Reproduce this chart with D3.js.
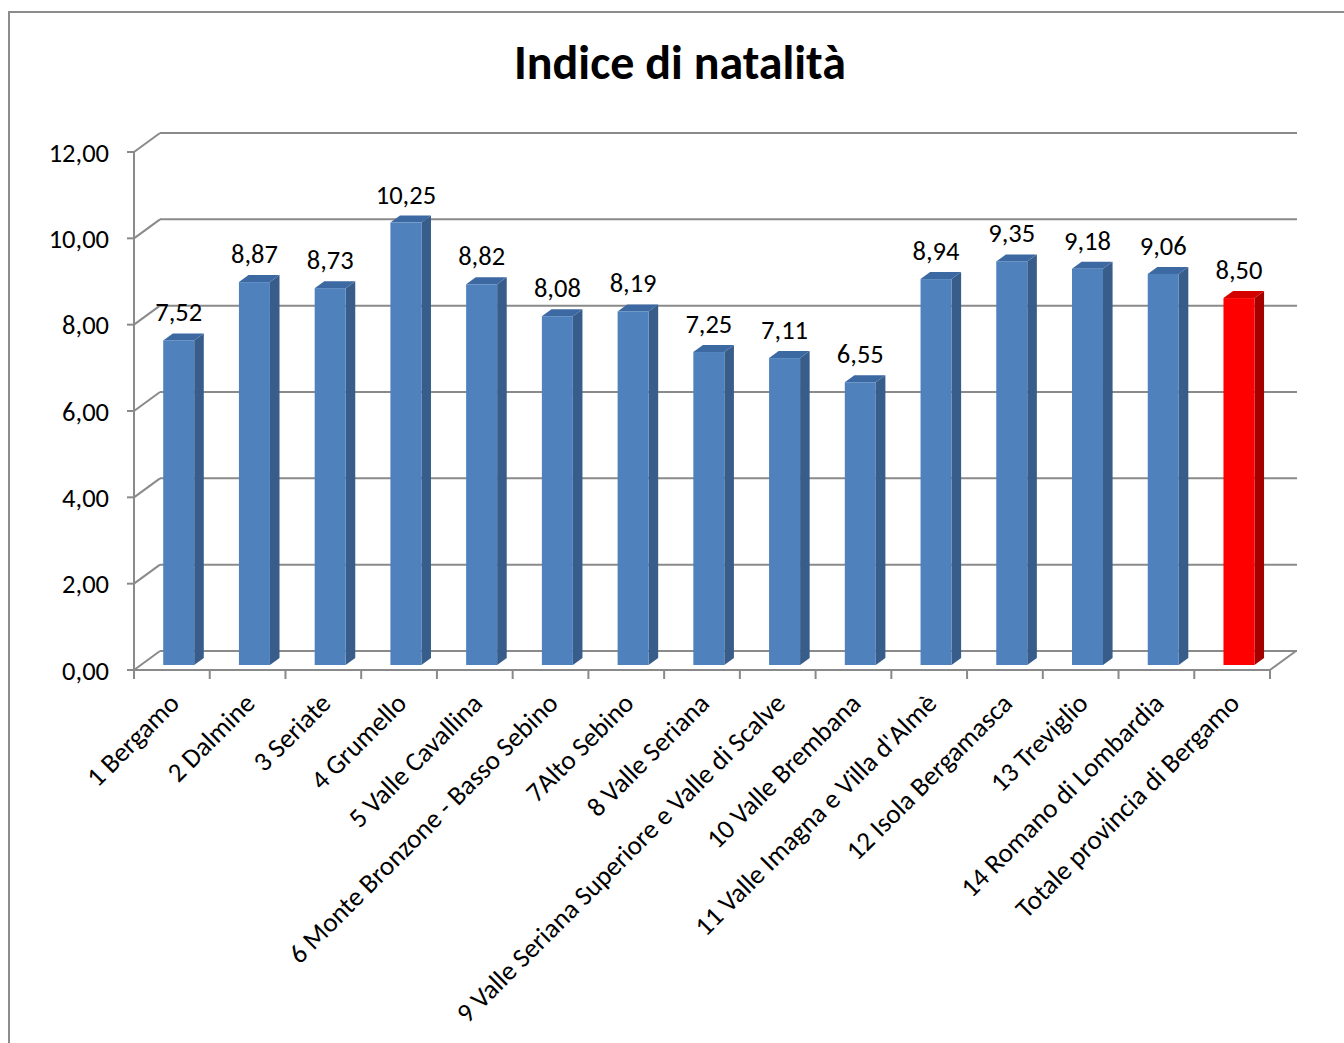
<!DOCTYPE html>
<html>
<head>
<meta charset="utf-8">
<script src="https://cdn.jsdelivr.net/npm/d3@7"></script>
<style>
  body { margin: 0; background: #fff; }
  text { font-family: Carlito, Lato, sans-serif; fill: #000; }
</style>
</head>
<body>
<svg id="chart" width="1344" height="1043"></svg>
<script>
// Chart data
var categories = ["1 Bergamo", "2 Dalmine", "3 Seriate", "4 Grumello", "5 Valle Cavallina",
	"6 Monte Bronzone - Basso Sebino", "7Alto Sebino", "8 Valle Seriana",
	"9 Valle Seriana Superiore e Valle di Scalve", "10 Valle Brembana",
	"11 Valle Imagna e Villa d'Almè", "12 Isola Bergamasca", "13 Treviglio",
	"14 Romano di Lombardia", "Totale provincia di Bergamo"];
var values = [7.52, 8.87, 8.73, 10.25, 8.82, 8.08, 8.19, 7.25, 7.11, 6.55, 8.94, 9.35, 9.18, 9.06, 8.50];
var highlight = ["Totale provincia di Bergamo"];
var yTicks = [0, 2, 4, 6, 8, 10, 12];
var title = "Indice di natalità";

// Layout
var chart = { left: 134, right: 1270, floor: 670, top: 152, depthX: 26, depthY: -19 };
var loc = d3.formatLocale({ decimal: ",", thousands: ".", grouping: [3], currency: ["", "€"] });
var fmt = loc.format(".2f");

var svg = d3.select("#chart");

// Outer frame
svg.append("rect")
	.attr("x", 9).attr("y", 12)
	.attr("width", 1400).attr("height", 1100)
	.attr("fill", "none")
	.attr("stroke", "#8c8c8c")
	.attr("stroke-width", 2);

// Title
svg.append("text")
	.attr("x", 680).attr("y", 79)
	.attr("text-anchor", "middle")
	.style("font-size", "48px")
	.style("font-weight", "bold")
	.text(title);

// Scales
let x = d3.scaleBand()
	.domain(categories)
	.range([chart.left, chart.right]);
let y = d3.scaleLinear()
	.domain([0, 12])
	.range([chart.floor, chart.top]);

let gridColor = "#8a8a8a";
let grid = svg.append("g")
	.attr("stroke", gridColor)
	.attr("stroke-width", 2)
	.attr("fill", "none");

// Back wall gridlines and left wall diagonals
yTicks.forEach((t) => {
	let yf = y(t), yb = y(t) + chart.depthY;
	grid.append("line")
		.attr("x1", chart.left + chart.depthX).attr("y1", yb)
		.attr("x2", chart.right + chart.depthX + 1).attr("y2", yb);
	grid.append("line")
		.attr("x1", chart.left).attr("y1", yf)
		.attr("x2", chart.left + chart.depthX).attr("y2", yb);
	grid.append("line")
		.attr("x1", chart.left - 7).attr("y1", yf)
		.attr("x2", chart.left).attr("y2", yf);
});

// Floor front edge and right diagonal
grid.append("line")
	.attr("x1", chart.left).attr("y1", chart.floor)
	.attr("x2", chart.right).attr("y2", chart.floor);
grid.append("line")
	.attr("x1", chart.right).attr("y1", chart.floor)
	.attr("x2", chart.right + chart.depthX).attr("y2", chart.floor + chart.depthY);

// Vertical axis
grid.append("line")
	.attr("x1", chart.left).attr("y1", y(12))
	.attr("x2", chart.left).attr("y2", chart.floor);

// Category ticks
d3.range(categories.length + 1).forEach((i) => {
	let xt = chart.left + i * x.step();
	grid.append("line")
		.attr("x1", xt).attr("y1", chart.floor)
		.attr("x2", xt).attr("y2", chart.floor + 9);
});

// Y tick labels
svg.append("g").selectAll("text")
	.data(yTicks)
	.enter()
	.append("text")
	.attr("x", 109)
	.attr("y", (d) => y(d))
	.attr("dy", "0.36em")
	.attr("text-anchor", "end")
	.style("font-size", "26.5px")
	.text((d) => fmt(d));

// Bars (3D boxes)
let f0 = 5 / 19, f1 = 12 / 19;
let faceW = 31;
let blue = { front: "#4f81bd", side: "#385d8a", top: "#3d69a3" };
let red = { front: "#ff0000", side: "#a50000", top: "#d40000" };

let bars = svg.append("g")
	.selectAll("g")
	.data(categories.map((c, i) => ({ name: c, value: values[i] })))
	.enter()
	.append("g");

bars.each(function(d) {
	let g = d3.select(this);
	let col = highlight.indexOf(d.name) >= 0 ? red : blue;
	let cx = x(d.name) + x.bandwidth() / 2 + f0 * chart.depthX;
	let xl = cx - faceW / 2, xr = cx + faceW / 2;
	let yb = y(0) + f0 * chart.depthY;
	let yt = y(d.value) + f0 * chart.depthY;
	let ddx = (f1 - f0) * chart.depthX, ddy = (f1 - f0) * chart.depthY;

	// Side face
	g.append("path")
		.attr("d", "M" + xr + "," + yb + "L" + xr + "," + yt + "L" + (xr + ddx) + "," + (yt + ddy) +
			"L" + (xr + ddx) + "," + (yb + ddy) + "Z")
		.attr("fill", col.side);
	// Top face
	g.append("path")
		.attr("d", "M" + xl + "," + yt + "L" + xr + "," + yt + "L" + (xr + ddx) + "," + (yt + ddy) +
			"L" + (xl + ddx) + "," + (yt + ddy) + "Z")
		.attr("fill", col.top);
	// Front face
	g.append("rect")
		.attr("x", xl).attr("y", yt)
		.attr("width", faceW).attr("height", yb - yt)
		.attr("fill", col.front);

	// Value label
	g.append("text")
		.attr("x", cx)
		.attr("y", yt + ddy - 12)
		.attr("text-anchor", "middle")
		.style("font-size", "26.5px")
		.text(fmt(d.value));
});

// Category labels, rotated
svg.append("g").selectAll("text")
	.data(categories)
	.enter()
	.append("text")
	.attr("text-anchor", "end")
	.attr("transform", (d) => "translate(" + (x(d) + x.bandwidth() / 2 + 9) + "," + (chart.floor + 35) + ") rotate(-45)")
	.style("font-size", "27px")
	.text((d) => d);
</script>
</body>
</html>
